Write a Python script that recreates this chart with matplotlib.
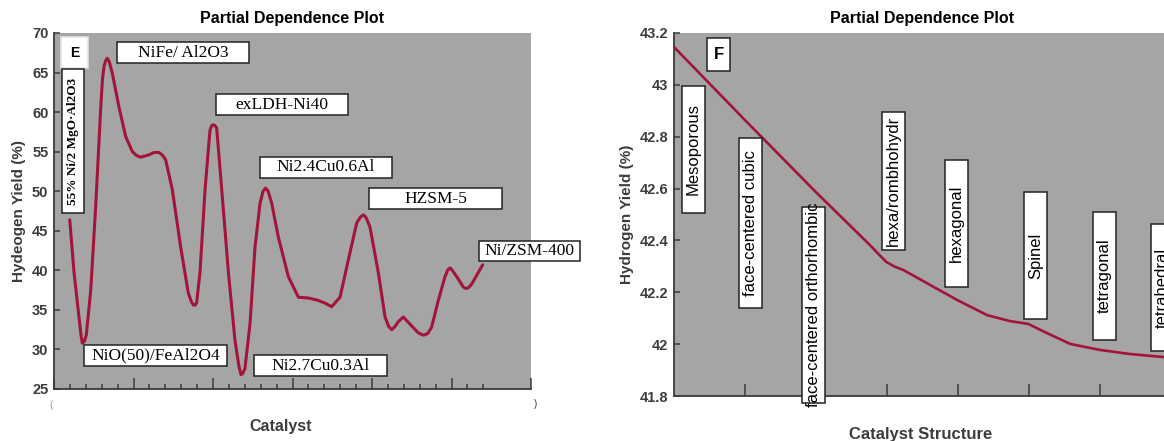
import matplotlib.pyplot as plt
from matplotlib.patches import Rectangle

plt.rcParams['font.family'] = ['Liberation Sans', 'DejaVu Sans']

# Panel E: hydrogen yield along the catalyst axis
cat_pos = [0.99, 1.26, 1.57, 1.70, 1.78, 1.90, 2.03, 2.31, 2.62, 2.94,
           3.05, 3.15, 3.25, 3.35, 3.47, 3.67, 4.09, 4.51, 4.93, 5.20,
           5.45, 5.97, 6.30, 6.60, 6.80, 7.02, 7.44, 7.97, 8.45, 8.65,
           8.77, 8.88, 8.97, 9.18, 9.50, 9.81, 9.92, 10.02, 10.12, 10.23,
           10.55, 10.97, 11.38, 11.62, 11.76, 11.88, 12.01, 12.33, 12.64, 12.96,
           13.15, 13.31, 13.47, 13.69, 14.11, 14.74, 15.37, 16.00, 16.62, 17.10,
           17.46, 17.99, 18.51, 19.04, 19.30, 19.46, 19.62, 19.87, 20.40, 20.82,
           21.05, 21.24, 21.45, 21.65, 21.97, 22.39, 22.91, 23.23, 23.50, 23.75,
           24.17, 24.59, 24.78, 24.91, 25.05, 25.33, 25.74, 25.90, 26.06, 26.25,
           26.48, 26.96]
cat_yield = [46.4, 39.7, 34.1, 31.8, 30.8, 31.0, 31.8, 37.5, 48.0, 60.6,
             64.2, 65.8, 66.5, 66.8, 66.4, 64.9, 60.6, 56.9, 55.0, 54.5,
             54.3, 54.6, 54.9, 54.9, 54.6, 54.0, 50.2, 42.9, 37.1, 36.0,
             35.6, 35.6, 35.9, 39.7, 50.2, 57.7, 58.3, 58.4, 58.3, 58.0,
             50.2, 39.7, 31.2, 28.0, 26.8, 27.0, 27.6, 33.3, 42.9, 48.5,
             50.0, 50.4, 50.0, 48.5, 44.2, 39.2, 36.6, 36.5, 36.2, 35.8,
             35.4, 36.6, 41.3, 46.0, 46.8, 47.0, 46.7, 45.5, 39.7, 34.1,
             32.9, 32.5, 32.9, 33.5, 34.1, 33.2, 32.1, 31.8, 32.0, 32.8,
             36.2, 39.2, 40.1, 40.3, 40.0, 39.2, 37.9, 37.7, 37.8, 38.2,
             39.0, 40.7]
cat_names = ['NiFe/ Al2O3', 'exLDH-Ni40', 'Ni2.4Cu0.6Al', 'HZSM-5',
             'Ni/ZSM-400', 'NiO(50)/FeAl2O4', 'Ni2.7Cu0.3Al']
cat_vertical = '55% Ni/2 MgO·Al2O3'

# Panel F: hydrogen yield along the catalyst structure axis
struct_pos = [0, 1, 2, 2.76, 2.90, 2.99, 3.10, 3.23, 3.61, 3.99,
              4.41, 4.73, 4.99, 5.25, 5.58, 5.99, 6.42, 6.90]
struct_yield = [43.146, 42.864, 42.586, 42.382, 42.342, 42.317, 42.300, 42.286, 42.228, 42.170,
                42.112, 42.089, 42.078, 42.043, 42.001, 41.978, 41.962, 41.950]
struct_names = ['Mesoporous', 'face-centered cubic', 'face-centered orthorhombic',
                'hexa/rombhohydr', 'hexagonal', 'Spinel', 'tetragonal', 'tetrahedral']

BG = '#a5a5a5'
LINE = '#a3143a'
SPINE = '#3a3a3a'
LABEL = '#3c3c3c'


def boxed(ax, x0, y0, x1, y1, text, **kw):
    ax.add_patch(Rectangle((x0, y0), x1 - x0, y1 - y0, facecolor='white',
                           edgecolor=kw.pop('ec', '#222222'), linewidth=1.1,
                           clip_on=False, zorder=4))
    ax.text((x0 + x1) / 2, (y0 + y1) / 2, text, ha='center', va='center',
            zorder=5, clip_on=False, **kw)


def style_axes(ax):
    ax.set_facecolor(BG)
    for side in ('top', 'right'):
        ax.spines[side].set_visible(False)
    for side in ('left', 'bottom'):
        ax.spines[side].set_color(SPINE)
        ax.spines[side].set_linewidth(1.3)
    ax.tick_params(direction='in', colors=SPINE, labelcolor=LABEL, width=1.1)
    for lab in ax.get_yticklabels():
        lab.set_fontweight('bold')
        lab.set_fontsize(10.5)
    ax.set_title('Partial Dependence Plot', fontsize=11.5, fontweight='bold', pad=7)


fig = plt.figure(figsize=(11.64, 4.41), dpi=100)

# ---- panel E ----
ax1 = fig.add_axes([54 / 1164, 52 / 441, 477 / 1164, 356 / 441])
ax1.plot(cat_pos, cat_yield, color=LINE, linewidth=2.2, solid_joinstyle='round',
         solid_capstyle='round', zorder=3)
ax1.set_xlim(0, 30)
ax1.set_ylim(25, 70)
ax1.set_xticks(range(0, 31, 5))
ax1.set_xticks([i for i in range(1, 28) if i % 5], minor=True)
ax1.set_xticklabels([])
ax1.set_yticks(range(25, 71, 5))
ax1.tick_params(axis='x', which='major', length=8)
ax1.tick_params(axis='x', which='minor', length=3.5, direction='in', colors=SPINE, width=1.1)
ax1.tick_params(axis='y', length=4, pad=4)
style_axes(ax1)
ax1.set_xlabel('Catalyst', fontsize=11.5, fontweight='bold', color=LABEL)
ax1.xaxis.set_label_coords(0.476, -0.084)
ax1.set_ylabel('Hydeogen Yield (%)', fontsize=11, fontweight='bold', color=LABEL, labelpad=4)

serif = dict(family=['Liberation Serif', 'DejaVu Serif'], fontsize=12.5, color='black')
boxed(ax1, 0.44, 65.58, 2.14, 69.49, 'E', ec='#e6e6e6', fontsize=10, fontweight='bold')
boxed(ax1, 0.50, 47.25, 1.89, 65.45, cat_vertical, rotation=90,
      family=['Liberation Serif', 'DejaVu Serif'], fontsize=9.5, fontweight='bold')
cat_boxes = [(3.96, 66.21, 12.26, 68.86), (10.19, 59.63, 18.49, 62.29),
             (12.96, 51.67, 21.26, 54.33), (19.81, 47.75, 28.18, 50.41),
             (26.73, 41.18, 33.08, 43.71), (1.89, 27.91, 10.88, 30.56),
             (12.58, 26.64, 20.94, 29.30)]
for name, (x0, y0, x1, y1) in zip(cat_names, cat_boxes):
    boxed(ax1, x0, y0, x1, y1, name, **serif)

fig.text(51 / 1164, 1 - 405 / 441, '(', fontsize=7, color='#9a9a9a', ha='center', va='center')
fig.text(536 / 1164, 1 - 404 / 441, ')', fontsize=7, color='#333333', ha='center', va='center')

# ---- panel F ----
ax2 = fig.add_axes([674 / 1164, 45 / 441, 497 / 1164, 363 / 441])
ax2.plot(struct_pos, struct_yield, color=LINE, linewidth=1.9, solid_joinstyle='round', zorder=3)
ax2.set_xlim(0, 7)
ax2.set_ylim(41.8, 43.2)
ax2.set_xticks(range(1, 8))
ax2.set_xticklabels([])
ax2.set_yticks([41.8, 42.0, 42.2, 42.4, 42.6, 42.8, 43.0, 43.2])
ax2.set_yticklabels(['41.8', '42', '42.2', '42.4', '42.6', '42.8', '43', '43.2'])
ax2.tick_params(axis='x', length=9)
ax2.tick_params(axis='y', length=4, pad=4)
style_axes(ax2)
ax2.set_xlabel('Catalyst Structure', fontsize=12, fontweight='bold', color=LABEL)
ax2.xaxis.set_label_coords(0.497, -0.085)
ax2.set_ylabel('Hydrogen Yield (%)', fontsize=11, fontweight='bold', color=LABEL, labelpad=4)

boxed(ax2, 0.465, 43.053, 0.789, 43.181, 'F', fontsize=12, fontweight='bold')
struct_boxes = [(0.113, 42.506, 0.437, 42.996), (0.915, 42.139, 1.239, 42.795),
                (1.803, 41.773, 2.127, 42.529), (2.930, 42.363, 3.254, 42.895),
                (3.817, 42.220, 4.141, 42.710), (4.930, 42.097, 5.254, 42.587),
                (5.901, 42.016, 6.225, 42.510), (6.718, 41.974, 7.042, 42.463)]
for name, (x0, y0, x1, y1) in zip(struct_names, struct_boxes):
    boxed(ax2, x0, y0, x1, y1, name, rotation=90, fontsize=12, color='black')

fig.savefig('out.png', dpi=100)
